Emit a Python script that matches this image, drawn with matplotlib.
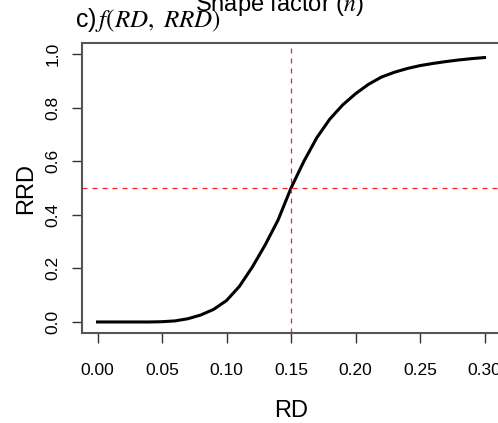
import matplotlib
matplotlib.use('Agg')
import matplotlib.pyplot as plt

# Curva RRD em função de RD
rd = [0.00, 0.01, 0.02, 0.03, 0.04, 0.05, 0.06, 0.07, 0.08, 0.09,
      0.10, 0.11, 0.12, 0.13, 0.14, 0.15, 0.16, 0.17, 0.18, 0.19,
      0.20, 0.21, 0.22, 0.23, 0.24, 0.25, 0.26, 0.27, 0.28, 0.29, 0.30]
rrd = [0.000, 0.000, 0.000, 0.000, 0.000, 0.001, 0.004, 0.012, 0.026, 0.047,
       0.080, 0.133, 0.205, 0.288, 0.381, 0.500, 0.600, 0.688, 0.757, 0.810,
       0.852, 0.887, 0.914, 0.932, 0.946, 0.957, 0.965, 0.972, 0.978, 0.983,
       0.987]

rd_ref = 0.15
rrd_ref = 0.5
xticks = [0.00, 0.05, 0.10, 0.15, 0.20, 0.25, 0.30]
yticks = [0.0, 0.2, 0.4, 0.6, 0.8, 1.0]

plt.rcParams['font.family'] = ['Liberation Sans', 'DejaVu Sans']
plt.rcParams['mathtext.fontset'] = 'stix'

fig = plt.figure(figsize=(4.98, 4.23), dpi=100)
ax = fig.add_axes([0.1647, 0.2135, 0.8394, 0.684])

ax.plot(rd, rrd, color='black', linewidth=2.2)
ax.axvline(rd_ref, color='#ff2020', linestyle=(0, (4, 4)), linewidth=0.9)
ax.axhline(rrd_ref, color='#ff2020', linestyle=(0, (4, 4)), linewidth=0.9)

ax.set_xlim(-0.012, 0.312)
ax.set_ylim(-0.04, 1.04)
ax.set_xticks(xticks)
ax.set_xticklabels([f'{t:.2f}' for t in xticks])
ax.set_yticks(yticks)
ax.set_yticklabels([f'{t:.1f}' for t in yticks], rotation=90, va='center')

ax.tick_params(axis='both', direction='out', length=7.5, width=1.0,
               colors='#333333', labelcolor='black', labelsize=12.5)
ax.tick_params(axis='x', pad=14)
ax.tick_params(axis='y', pad=8)

for spine in ax.spines.values():
    spine.set_color('#555555')
    spine.set_linewidth(1.5)

ax.set_xlabel('RD', fontsize=17, labelpad=16)
ax.set_ylabel('RRD', fontsize=17, labelpad=6)

fig.text(279 / 498, 1 - 11 / 423, 'Shape factor ($n$)',
         fontsize=17, ha='center', va='baseline')
fig.text(75 / 498, 1 - 27 / 423, 'c)$\\,f(RD,\\ RRD)$', fontsize=18,
         ha='left', va='baseline')

plt.savefig('out.png', dpi=100)
plt.close()
